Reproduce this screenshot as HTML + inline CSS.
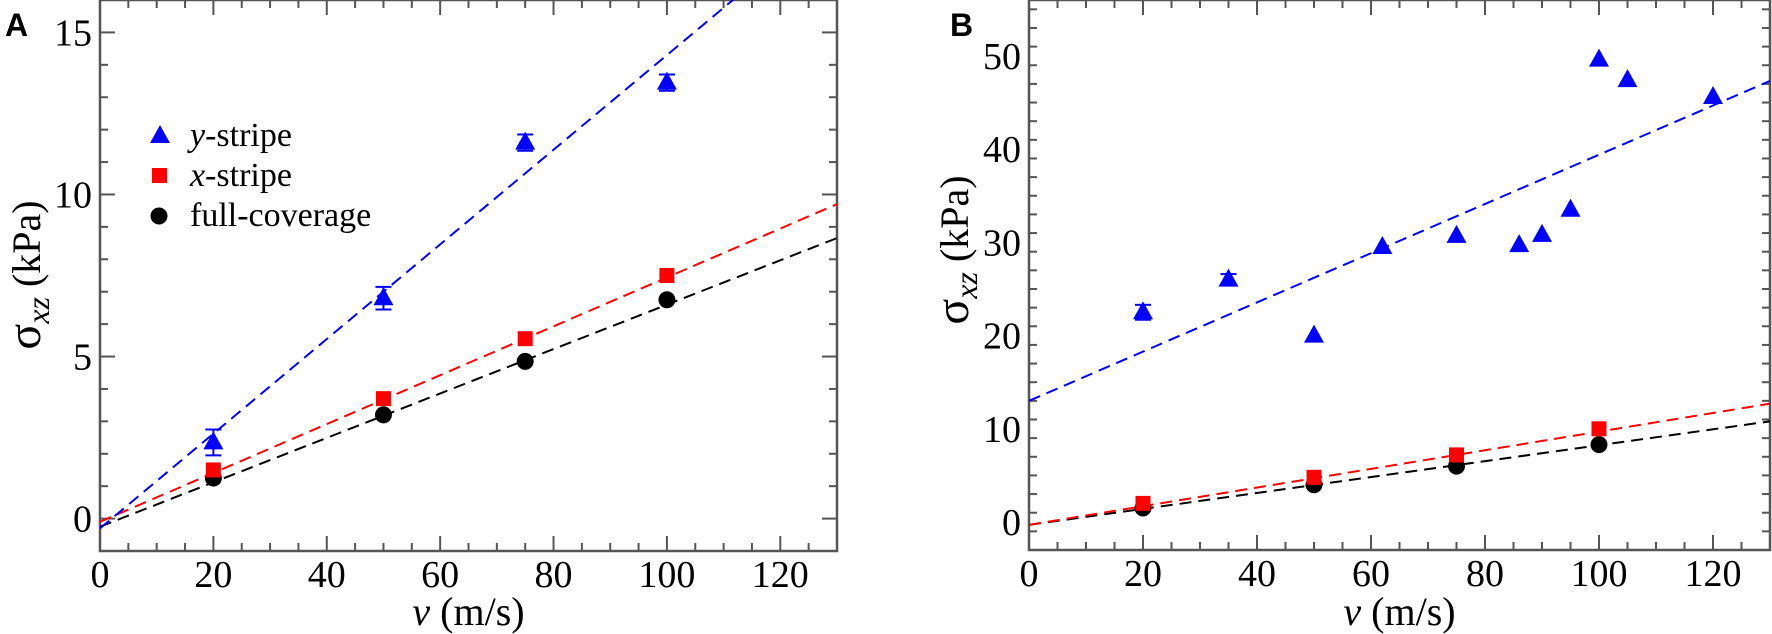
<!DOCTYPE html>
<html><head><meta charset="utf-8"><style>
body{margin:0;background:#fff}
svg{display:block}
text{font-family:"Liberation Serif",serif;fill:#000}
</style></head><body>
<svg id="c" width="1772" height="634" xmlns="http://www.w3.org/2000/svg"></svg>
<script>
// Panel A data
const xA = [20, 50, 75, 100];
const yStripeA = [2.35, 6.8, 11.6, 13.45];
const yStripeErrA = [0.4, 0.35, 0.25, 0.25];
const xStripeA = [1.5, 3.7, 5.55, 7.5];
const fullA = [1.25, 3.2, 4.85, 6.75];
const fitA_blue = [-0.3, 0.146];
const fitA_red = [-0.1, 0.0754];
const fitA_black = [-0.25, 0.0685];
const yTicksA = [0, 5, 10, 15];
// Panel B data
const xB_y = [20, 35, 50, 62, 75, 86, 90, 95, 100, 105, 120];
const yStripeB = [22.5, 26, 20, 29.5, 30.7, 29.7, 30.8, 33.5, 49.6, 47.4, 45.6];
const yStripeErrB = [0.8, 0.6, 0, 0, 0, 0, 0, 0, 0, 0, 0];
const xB = [20, 50, 75, 100];
const xStripeB = [2, 4.8, 7.2, 10];
const fullB = [1.5, 4, 6, 8.3];
const fitB_blue = [13, 0.264];
const fitB_red = [-0.3, 0.1];
const fitB_black = [-0.3, 0.0854];
const yTicksB = [0, 10, 20, 30, 40, 50];
const xTicks = [0, 20, 40, 60, 80, 100, 120];

const NS = "http://www.w3.org/2000/svg";
const svg = document.getElementById('c');
function mk(tag, attrs, parent, txt) {
  const e = document.createElementNS(NS, tag);
  for (const k in attrs) e.setAttribute(k, attrs[k]);
  if (txt !== undefined) e.textContent = txt;
  (parent || svg).appendChild(e);
  return e;
}
function panel(P) {
  const g = mk('g', {});
  
  
  const X = v => P.x0 + (v - 0) * (P.x1 - P.x0) / 130;
  const Y = v => P.yb - (v - P.ymin) * (P.yb - P.yt) / (P.ymax - P.ymin);
  const fr = mk('rect', {x: P.x0, y: P.yt, width: P.x1 - P.x0, height: P.yb - P.yt, fill: 'none', stroke: '#555', 'stroke-width': 2.5}, g);
  
  
  for (let v = 5; v < 130; v += 5) {
    const L = v % 20 === 0 ? 15 : 8;
    mk('line', {x1: X(v), x2: X(v), y1: P.yb, y2: P.yb - L, stroke: '#555', 'stroke-width': 2}, g);
    mk('line', {x1: X(v), x2: X(v), y1: P.yt, y2: P.yt + L, stroke: '#555', 'stroke-width': 2}, g);
  }
  xTicks.forEach(v => {
    const t = mk('text', {x: X(v), y: P.yb + 36, 'font-size': 38, 'text-anchor': 'middle'}, g, String(v));
    
    
  });
  for (let v = Math.ceil(P.ymin); v <= P.ymax; v += P.minor) {
    if (v <= P.ymin || v >= P.ymax) continue;
    const L = v % P.major === 0 ? 15 : 8;
    mk('line', {x1: P.x0, x2: P.x0 + L, y1: Y(v), y2: Y(v), stroke: '#555', 'stroke-width': 2}, g);
    mk('line', {x1: P.x1, x2: P.x1 - L, y1: Y(v), y2: Y(v), stroke: '#555', 'stroke-width': 2}, g);
  }
  P.yTicks.forEach(v => {
    const t = mk('text', {x: P.x0 - 8, y: Y(v) + 13, 'font-size': 38, 'text-anchor': 'end'}, g, String(v));
    
    
  });
  const xt = mk('text', {x: (P.x0 + P.x1) / 2, y: 625, 'font-size': 40, 'text-anchor': 'middle'}, g);
  
  
  mk('tspan', {'font-style': 'italic'}, xt, 'v');
  mk('tspan', {}, xt, ' (m/s)');
  const yt = mk('text', {transform: `translate(${P.ytx},${P.yty}) rotate(-90)`, 'font-size': 40, 'text-anchor': 'middle'}, g);
  
  
  mk('tspan', {'font-size': 48}, yt, 'σ');
  mk('tspan', {'font-style': 'italic', dy: 9, 'font-size': 32}, yt, 'xz');
  mk('tspan', {dy: -9}, yt, ' (kPa)');
  const pl = mk('text', {x: P.lx, y: 36, 'font-size': 32, 'font-weight': 'bold', style: 'font-family:"Liberation Sans",sans-serif'}, g, P.label);
  
  
  const cid = 'clip' + P.label;
  const cp = mk('clipPath', {id: cid}, g);
  mk('rect', {x: P.x0, y: P.yt, width: P.x1 - P.x0, height: P.yb - P.yt}, cp);
  const dg = mk('g', {'clip-path': `url(#${cid})`}, g);
  [[P.fitBlack, '#000', 'fit-line-full-coverage'], [P.fitRed, '#f00', 'fit-line-x-stripe'], [P.fitBlue, '#00f', 'fit-line-y-stripe']].forEach(([f, c, n]) => {
    const l = mk('line', {x1: X(0), y1: Y(f[0]), x2: X(130), y2: Y(f[0] + f[1] * 130), stroke: c, 'stroke-width': 2, 'stroke-dasharray': '12,7'}, dg);
    
    
  });
  P.xs.forEach((v, i) => {
    const c = mk('circle', {cx: X(v), cy: Y(P.full[i]), r: 8.5, fill: '#000'}, dg);
    
    
  });
  P.xs.forEach((v, i) => {
    const s = mk('rect', {x: X(v) - 7.5, y: Y(P.xstr[i]) - 7.5, width: 15, height: 15, fill: '#f00'}, dg);
    
    
  });
  P.xy.forEach((v, i) => {
    const cx = X(v), cy = Y(P.ystr[i]), e = P.yerr[i];
    if (e > 0) {
      const y1 = Y(P.ystr[i] + e), y2 = Y(P.ystr[i] - e);
      mk('line', {x1: cx, x2: cx, y1: y1, y2: y2, stroke: '#00f', 'stroke-width': 2}, dg);
      mk('line', {x1: cx - 8, x2: cx + 8, y1: y1, y2: y1, stroke: '#00f', 'stroke-width': 2}, dg);
      mk('line', {x1: cx - 8, x2: cx + 8, y1: y2, y2: y2, stroke: '#00f', 'stroke-width': 2}, dg);
    }
    const t = mk('polygon', {points: `${cx},${cy - 11} ${cx + 10},${cy + 7} ${cx - 10},${cy + 7}`, fill: '#00f'}, dg);
    
    
  });
}
panel({name: 'panel-a', label: 'A', lx: 5, x0: 100, x1: 837, yt: 0, yb: 551, ymin: -1, ymax: 16, minor: 1, major: 5,
  yTicks: yTicksA, ytx: 40, yty: 275,
  xs: xA, full: fullA, xstr: xStripeA, xy: xA, ystr: yStripeA, yerr: yStripeErrA,
  fitBlue: fitA_blue, fitRed: fitA_red, fitBlack: fitA_black});
panel({name: 'panel-b', label: 'B', lx: 950, x0: 1029, x1: 1770, yt: 0, yb: 550, ymin: -3, ymax: 56, minor: 2, major: 10,
  yTicks: yTicksB, ytx: 968, yty: 250,
  xs: xB, full: fullB, xstr: xStripeB, xy: xB_y, ystr: yStripeB, yerr: yStripeErrB,
  fitBlue: fitB_blue, fitRed: fitB_red, fitBlack: fitB_black});
const lg = mk('g', {});


mk('polygon', {points: '160,125 170,143 150,143', fill: '#00f'}, lg);
mk('rect', {x: 152, y: 168, width: 15, height: 15, fill: '#f00'}, lg);
mk('circle', {cx: 159, cy: 216, r: 8.5, fill: '#000'}, lg);
const l1 = mk('text', {x: 190, y: 146, 'font-size': 34}, lg);


mk('tspan', {'font-style': 'italic'}, l1, 'y');
mk('tspan', {}, l1, '-stripe');
const l2 = mk('text', {x: 190, y: 186, 'font-size': 34}, lg);


mk('tspan', {'font-style': 'italic'}, l2, 'x');
mk('tspan', {}, l2, '-stripe');
const l3 = mk('text', {x: 190, y: 226, 'font-size': 34}, lg, 'full-coverage');


</script>
</body></html>
